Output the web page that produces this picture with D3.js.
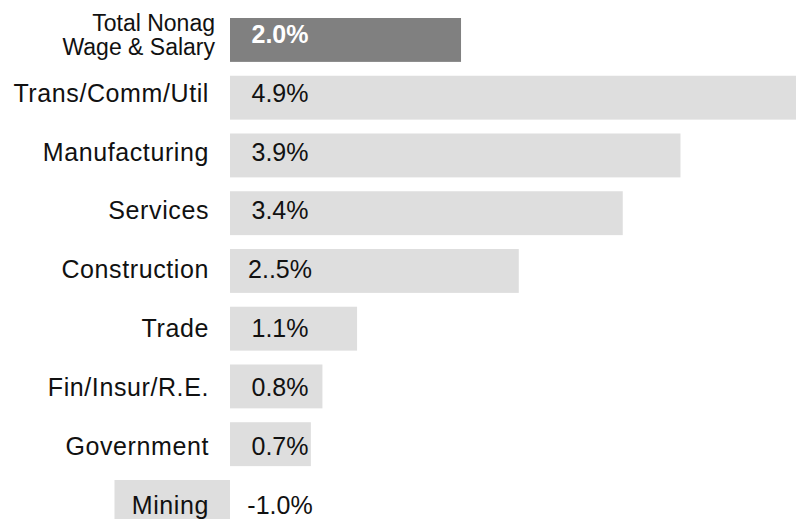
<!DOCTYPE html>
<html>
<head>
<meta charset="utf-8">
<script src="https://cdn.jsdelivr.net/npm/d3@7"></script>
<style>
  body { margin: 0; background: #fff; }
  svg { display: block; font-family: "Liberation Sans", Arial, sans-serif; }
</style>
</head>
<body>
<script>
// industries, top to bottom
var categories = ["Total Nonag|Wage & Salary", "Trans/Comm/Util", "Manufacturing", "Services",
  "Construction", "Trade", "Fin/Insur/R.E.", "Government", "Mining"];
var values = [2.0, 4.9, 3.9, 3.4, 2.5, 1.1, 0.8, 0.7, -1.0];
// printed labels (as on the slide, incl. the typo)
var valueLabels = ["2.0%", "4.9%", "3.9%", "3.4%", "2..5%", "1.1%", "0.8%", "0.7%", "-1.0%"];

var width = 800, height = 519;

var svg = d3.select("body").append("svg")
  .attr("width", width)
  .attr("height", height);

var x = d3.scaleLinear()
  .domain([d3.min(values), d3.max(values)])
  .range([114.5, 796]);

var y = d3.scaleBand()
  .domain(categories)
  .range([11.07, 530.8])
  .paddingInner(0.24)
  .paddingOuter(0.12);

// the text rows on the slide sit on a slightly wider grid than the bars
var yText = d3.scalePoint()
  .domain(categories)
  .range([34.5, 505]);

var rows = svg.selectAll("g.row")
  .data(categories)
  .enter().append("g")
  .attr("class", "row");

rows.append("rect")
  .attr("x", (d, i) => x(Math.min(0, values[i])))
  .attr("y", d => y(d))
  .attr("width", (d, i) => Math.abs(x(values[i]) - x(0)))
  .attr("height", y.bandwidth())
  .attr("fill", (d, i) => i == 0 ? "#808080" : "#dedede");

// category labels, right aligned left of the zero line
rows.append("text")
  .attr("text-anchor", "end")
  .attr("x", x(0) - 21)
  .attr("y", d => yText(d) + 8.5)
  .style("font-size", "25px")
  .style("letter-spacing", "0.6px")
  .style("fill", "#111")
  .each(function(d, i) {
    var parts = d.split("|");
    if (parts.length == 1) {
      d3.select(this).text(d);
      return;
    }
    // two-line total label, a bit smaller
    d3.select(this)
      .attr("y", y(d) + 13)
      .style("font-size", "23px")
      .style("letter-spacing", "0px");
    parts.forEach(function(p, k) {
      d3.select(this).append("tspan")
        .attr("x", x(0) - 15)
        .attr("dy", k == 0 ? 0 : 24)
        .text(p);
    }, this);
  });

// value labels
rows.append("text")
  .attr("text-anchor", "middle")
  .attr("x", x(0) + 50)
  .attr("y", d => yText(d) + 8.5)
  .style("font-size", "25px")
  .style("font-weight", (d, i) => i == 0 ? "bold" : "normal")
  .style("fill", (d, i) => i == 0 ? "#fff" : "#111")
  .text((d, i) => valueLabels[i]);
</script>
</body>
</html>
